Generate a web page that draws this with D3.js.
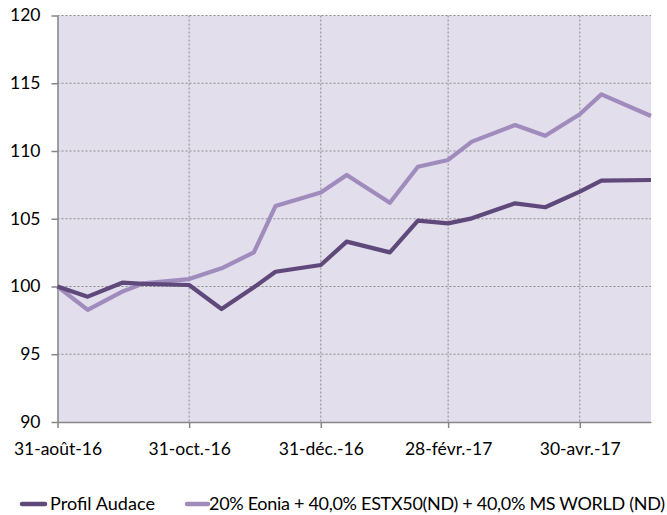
<!DOCTYPE html>
<html>
<head>
<meta charset="utf-8">
<script src="https://cdn.jsdelivr.net/npm/d3@7.9.0/dist/d3.min.js"></script>
<style>
  body { margin: 0; background: #fff; }
  svg { display: block; font-family: Lato, sans-serif; }
</style>
</head>
<body>
<div id="chart"></div>
<script>
const dates = ['2016-08-31','2016-09-14','2016-09-30','2016-10-10','2016-10-31','2016-11-15',
  '2016-11-30','2016-12-10','2016-12-31','2017-01-12','2017-02-01','2017-02-14','2017-02-28',
  '2017-03-11','2017-03-31','2017-04-14','2017-04-30','2017-05-10','2017-06-02'];
const profilAudace = [100, 99.25, 100.28, 100.2, 100.11, 98.34, 99.94, 101.09, 101.59, 103.31,
  102.52, 104.86, 104.66, 105.03, 106.14, 105.85, 107.0, 107.81, 107.86];
const benchmark = [100, 98.27, 99.62, 100.24, 100.55, 101.34, 102.52, 105.94, 106.93, 108.23,
  106.18, 108.84, 109.34, 110.69, 111.92, 111.13, 112.71, 114.18, 112.58];
const xTickDates = ['2016-08-31','2016-10-31','2016-12-31','2017-02-28','2017-04-30'];
const xTickLabels = ['31-août-16','31-oct.-16','31-déc.-16','28-févr.-17','30-avr.-17'];
const yTicks = [90, 95, 100, 105, 110, 115, 120];
const seriesNames = ['Profil Audace', '20% Eonia + 40,0% ESTX50(ND) + 40,0% MS WORLD (ND)'];
const colors = ['#5f497a', '#a08bbd'];

const parse = d3.timeParse('%Y-%m-%d');
const width = 667, height = 515;
const margin = {top: 15.5, right: 16, bottom: 93, left: 57.5};

const svg = d3.select('#chart').append('svg')
  .attr('width', width).attr('height', height);

const x = d3.scaleTime()
  .domain(d3.extent(dates, parse))
  .range([margin.left, width - margin.right]);
const y = d3.scaleLinear()
  .domain([90, 120])
  .range([height - margin.bottom, margin.top]);

// plot background
svg.append('rect')
  .attr('x', margin.left).attr('y', margin.top)
  .attr('width', width - margin.right - margin.left)
  .attr('height', height - margin.bottom - margin.top)
  .attr('fill', '#e2deec');

// grid lines
svg.append('g')
  .selectAll('line.h')
  .data(yTicks.slice(1))
  .join('line')
    .attr('x1', margin.left).attr('x2', width - margin.right)
    .attr('y1', d => y(d)).attr('y2', d => y(d))
    .attr('stroke', '#8a8a8a').attr('stroke-width', 1)
    .attr('stroke-dasharray', '2,2');
svg.append('g')
  .selectAll('line.v')
  .data(xTickDates.slice(1))
  .join('line')
    .attr('x1', d => x(parse(d))).attr('x2', d => x(parse(d)))
    .attr('y1', margin.top).attr('y2', height - margin.bottom)
    .attr('stroke', '#8a8a8a').attr('stroke-width', 1)
    .attr('stroke-dasharray', '2,2');

// axes
const yAxis = svg.append('g')
  .attr('transform', `translate(${margin.left},0)`)
  .call(d3.axisLeft(y).tickValues(yTicks).tickSize(6).tickPadding(11).tickSizeOuter(0));
const xAxis = svg.append('g')
  .attr('transform', `translate(0,${height - margin.bottom})`)
  .call(d3.axisBottom(x).tickValues(xTickDates.map(parse))
    .tickFormat((d, i) => xTickLabels[i]).tickSize(6).tickPadding(15).tickSizeOuter(0));
[yAxis, xAxis].forEach(g => {
  g.select('.domain').attr('stroke', '#868686').attr('stroke-width', 1.5);
  g.selectAll('.tick line').attr('stroke', '#868686').attr('stroke-width', 1.5);
  g.selectAll('text').attr('fill', '#000').style('font-size', '17.5px').style('font-family', 'Lato, sans-serif');
});
yAxis.selectAll('text').attr('dy', '0.3em');

// lines
const line = d3.line()
  .x((d, i) => x(parse(dates[i])))
  .y(d => y(d));
[benchmark, profilAudace].forEach((s, k) => {
  svg.append('path')
    .datum(s)
    .attr('fill', 'none')
    .attr('stroke', k === 0 ? colors[1] : colors[0])
    .attr('stroke-width', 4.2)
    .attr('stroke-linejoin', 'round')
    .attr('d', line);
});

// legend
const legend = svg.append('g').attr('transform', 'translate(0,504)');
const legendItems = [
  {x1: 22, x2: 45, tx: 50, tw: 105},
  {x1: 187, x2: 208, tx: 209, tw: 456}
];
seriesNames.forEach((name, i) => {
  const it = legendItems[i];
  legend.append('line')
    .attr('x1', it.x1).attr('x2', it.x2)
    .attr('y1', 0).attr('y2', 0)
    .attr('stroke', colors[i]).attr('stroke-width', 4.5)
    .attr('stroke-linecap', 'round');
  legend.append('text')
    .attr('x', it.tx).attr('y', 0).attr('dy', '0.35em')
    .attr('textLength', it.tw).attr('lengthAdjust', 'spacing')
    .style('font-size', '18px')
    .text(name);
});
</script>
</body>
</html>
